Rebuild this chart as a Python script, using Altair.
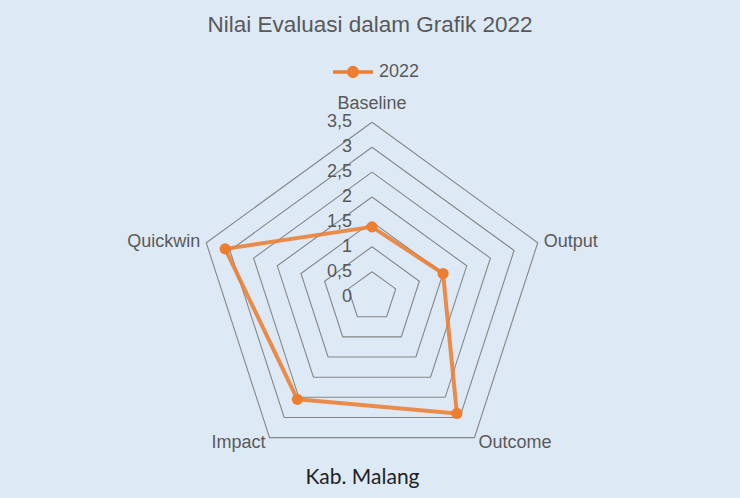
import math
import altair as alt
import pandas as pd

# ---------------- data ----------------
categories = ["Baseline", "Output", "Outcome", "Impact", "Quickwin"]
values_2022 = [1.4, 1.5, 2.9, 2.55, 3.1]
series_name = "2022"
ring_values = [0.5, 1.0, 1.5, 2.0, 2.5, 3.0, 3.5]
tick_values = [0, 0.5, 1.0, 1.5, 2.0, 2.5, 3.0, 3.5]
tick_labels = ["0", "0,5", "1", "1,5", "2", "2,5", "3", "3,5"]
r_max = 3.5

n = len(categories)

# series rows (closed polygon)
series_rows = []
for i in range(n + 1):
    k = i % n
    series_rows.append({"cat": categories[k], "idx": i, "value": values_2022[k], "series": series_name})
series_df = pd.DataFrame(series_rows)

# grid rows
grid_rows = []
for r in ring_values:
    for i in range(n + 1):
        grid_rows.append({"ring": r, "idx": i, "value": r})
grid_df = pd.DataFrame(grid_rows)

cat_df = pd.DataFrame({"cat": categories, "idx": list(range(n)), "value": [r_max] * n})
tick_df = pd.DataFrame({"tv": tick_values, "label": tick_labels})

# ---------------- layout ----------------
W, H = 740, 498
PAD_TOP = 40
PH = H - PAD_TOP
cx, cy = 372.0, 296.6 - PAD_TOP
ppu = 49.8
xdom = [-cx / ppu, (W - cx) / ppu]
ydom = [-(PH - cy) / ppu, cy / ppu]

xs = alt.Scale(domain=xdom, nice=False, zero=False)
ys = alt.Scale(domain=ydom, nice=False, zero=False)


def with_xy(ch):
    return ch.transform_calculate(
        ang=f"datum.idx * 2 * PI / {n}"
    ).transform_calculate(
        px="datum.value * sin(datum.ang)",
        py="datum.value * cos(datum.ang)",
    )


ORANGE = "#ED7D31"
GRAY_TXT = "#595959"
FONT = "Liberation Sans"

x_enc = alt.X(
    "px:Q",
    scale=xs,
    axis=alt.Axis(
        title="Kab. Malang",
        domain=False,
        ticks=False,
        labels=False,
        grid=False,
        titleFont="Lato",
        titleFontSize=21,
        titleFontWeight="normal",
        titleColor="#222222",
        titleX=362,
        titleY=-21,
        titleAlign="center",
        titleBaseline="middle",
    ),
)
y_enc = alt.Y("py:Q", scale=ys, axis=None)

grid = with_xy(alt.Chart(grid_df)).mark_line(
    color="#868686", strokeWidth=1.1
).encode(
    x=x_enc,
    y=y_enc,
    detail="ring:N",
    order="idx:Q",
)

legend_path = "M-1,0L1,0M-0.22,0A0.22,0.22,0,1,1,0.22,0A0.22,0.22,0,1,1,-0.22,0Z"

line = with_xy(alt.Chart(series_df)).mark_line(
    strokeWidth=4, strokeJoin="round", strokeOpacity=0.88
).encode(
    x="px:Q",
    y="py:Q",
    order="idx:Q",
    color=alt.Color(
        "series:N",
        scale=alt.Scale(range=[ORANGE]),
        legend=alt.Legend(
            title=None,
            orient="none",
            legendX=331,
            legendY=10,
            symbolType=legend_path,
            symbolSize=1600,
            symbolStrokeWidth=3.5,
            symbolFillColor=ORANGE,
            symbolStrokeColor=ORANGE,
            labelFont=FONT,
            labelFontSize=18,
            labelColor=GRAY_TXT,
            labelOffset=4,
            padding=0,
        ),
    ),
)

points = with_xy(alt.Chart(series_df)).transform_filter(
    f"datum.idx < {n}"
).mark_point(filled=True, size=125, opacity=1, color=ORANGE).encode(
    x="px:Q",
    y="py:Q",
)

ticks = alt.Chart(tick_df).transform_calculate(
    px="0", py="datum.tv"
).mark_text(
    align="right", baseline="middle", dx=-20, font=FONT, fontSize=18, color=GRAY_TXT
).encode(x="px:Q", y="py:Q", text="label:N")

label_style = {
    "Baseline": dict(align="center", dx=0, dy=-18),
    "Output": dict(align="left", dx=6, dy=-1),
    "Outcome": dict(align="left", dx=4, dy=5),
    "Impact": dict(align="right", dx=-4, dy=5),
    "Quickwin": dict(align="right", dx=-6, dy=-1),
}
label_layers = []
for c in categories:
    st = label_style[c]
    label_layers.append(
        with_xy(alt.Chart(cat_df)).transform_filter(alt.datum.cat == c).mark_text(
            baseline="middle", font=FONT, fontSize=18, color=GRAY_TXT, **st
        ).encode(x="px:Q", y="py:Q", text="cat:N")
    )

chart = alt.layer(grid, line, points, ticks, *label_layers).properties(
    width=W,
    height=PH,
    padding={"top": PAD_TOP, "left": 0, "right": 0, "bottom": 0},
    autosize=alt.AutoSizeParams(type="none"),
    background="#DDEAF6",
    title=alt.TitleParams(
        "Nilai Evaluasi dalam Grafik 2022",
        font=FONT,
        fontSize=22.5,
        fontWeight="normal",
        color=GRAY_TXT,
        anchor="middle",
        baseline="alphabetic",
        offset=8,
        dy=22,
    ),
).configure_view(stroke=None)

chart.save("out.html", embed_options={"renderer": "svg", "actions": False})
